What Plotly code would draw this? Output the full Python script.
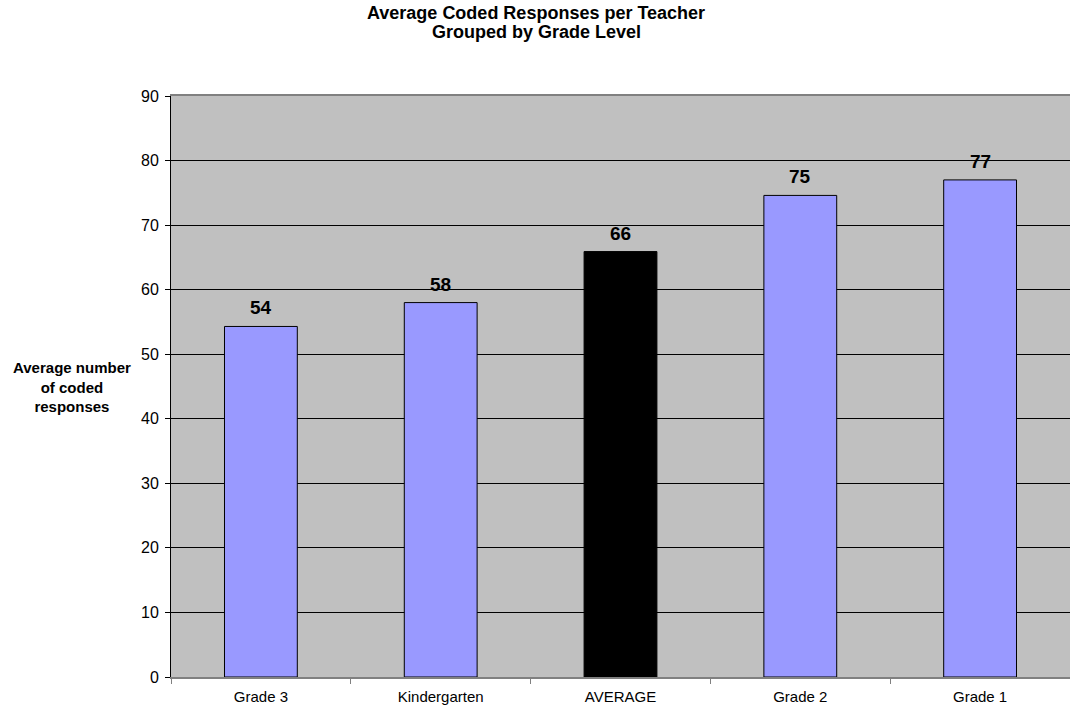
import plotly.graph_objects as go

categories = ["Grade 3", "Kindergarten", "AVERAGE", "Grade 2", "Grade 1"]
values = [54.3, 58.0, 65.9, 74.6, 77.0]
bar_colors = ["#9999FF", "#9999FF", "#000000", "#9999FF", "#9999FF"]
y_ticks = [0, 10, 20, 30, 40, 50, 60, 70, 80, 90]
title_lines = ["Average Coded Responses per Teacher", "Grouped by Grade Level"]
y_title = "Average number<br>of coded<br>responses"

FONT = "Arial, Liberation Sans, sans-serif"
W, H = 1070, 712
M_L, M_R, M_T, M_B = 171, 0, 96, 35
PH = H - M_T - M_B

fig = go.Figure()
fig.add_trace(go.Bar(
    x=categories, y=values,
    marker=dict(color=bar_colors, line=dict(color="#000000", width=1)),
    hoverinfo="x+y",
))

for c, v in zip(categories, values):
    fig.add_annotation(x=c, y=v, text="<b>%d</b>" % round(v), showarrow=False,
                       yanchor="bottom", yshift=6,
                       font=dict(family=FONT, size=19, color="#000000"))

# title lines (centers at ~13 and ~32 px from top)
for i, line in enumerate(title_lines):
    yc = 13 + 19.5 * i
    fig.add_annotation(xref="paper", yref="paper",
                       x=(536 - M_L) / (W - M_L - M_R), y=1 + (M_T - yc) / PH,
                       xanchor="center", yanchor="middle", showarrow=False,
                       text="<b>%s</b>" % line,
                       font=dict(family=FONT, size=18, color="#000000"))

fig.add_annotation(xref="paper", yref="paper",
                   x=(72 - M_L) / (W - M_L - M_R), y=1 - (387 - M_T) / PH,
                   xanchor="center", yanchor="middle", showarrow=False,
                   text="<b>%s</b>" % y_title,
                   font=dict(family=FONT, size=15, color="#000000"))

fig.update_layout(
    width=W, height=H,
    margin=dict(l=M_L, r=M_R, t=M_T, b=M_B),
    paper_bgcolor="#FFFFFF", plot_bgcolor="#C0C0C0",
    bargap=0.595,
    showlegend=False,
    font=dict(family=FONT, color="#000000"),
)
fig.update_xaxes(type="category", tickson="boundaries", ticks="outside", ticklen=5,
                 tickcolor="#808080", showline=True, linecolor="#808080", linewidth=2,
                 mirror=True, showgrid=False, ticklabelstandoff=5,
                 tickfont=dict(family=FONT, size=15, color="#000000"))
fig.update_yaxes(range=[0, 90], tickvals=y_ticks, ticks="outside", ticklen=5,
                 tickcolor="#000000", showline=True, linecolor="#000000", linewidth=1,
                 showgrid=True, gridcolor="#000000", gridwidth=1, zeroline=False,
                 ticklabelstandoff=3,
                 tickfont=dict(family=FONT, size=16, color="#000000"))

fig.write_html("out.html")
